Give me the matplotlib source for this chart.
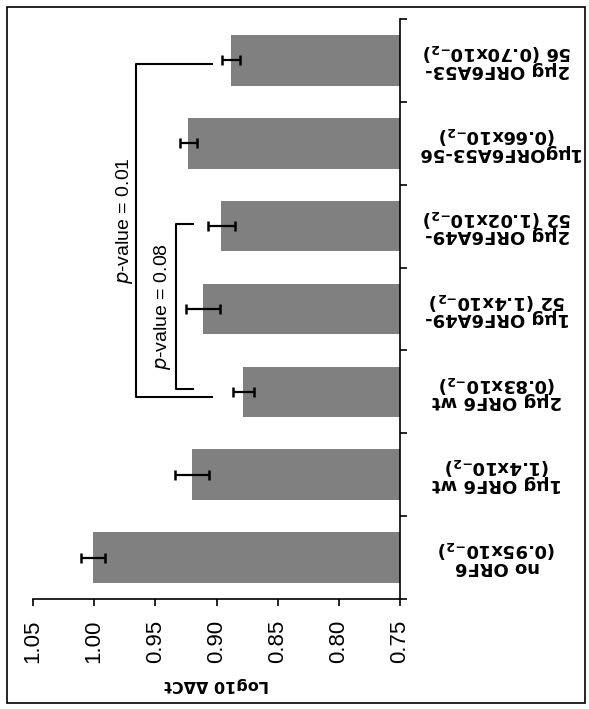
import numpy as np
import matplotlib
matplotlib.use("Agg")
import matplotlib.pyplot as plt
from matplotlib.patches import Rectangle

# data (bottom -> top)
labels = ["no ORF6\n(0.95x10$\\mathbf{_{-2}}$)",
          "1\u00b5g ORF6 wt\n(1.4x10$\\mathbf{_{-2}}$)",
          "2\u00b5g ORF6 wt\n(0.83x10$\\mathbf{_{-2}}$)",
          "1\u00b5g ORF6A49-\n52 (1.4x10$\\mathbf{_{-2}}$)",
          "2\u00b5g ORF6A49-\n52 (1.02x10$\\mathbf{_{-2}}$)",
          "1\u00b5gORF6A53-56\n(0.66x10$\\mathbf{_{-2}}$)",
          "2\u00b5g ORF6A53-\n56 (0.70x10$\\mathbf{_{-2}}$)"]
values = np.array([1.001, 0.920, 0.878, 0.911, 0.896, 0.923, 0.888])
errors = np.array([0.010, 0.014, 0.0084, 0.014, 0.011, 0.0068, 0.0071])
xticks = [1.05, 1.00, 0.95, 0.90, 0.85, 0.80, 0.75]
base = 0.75

fig = plt.figure(figsize=(5.89, 7.09), dpi=100)
ax = fig.add_axes([33/589, 110/709, 367/589, 580/709])

y = np.arange(len(values))
ax.barh(y, values - base, left=base, height=0.61, color="#808080")
ax.errorbar(values, y, xerr=errors, fmt="none", ecolor="black",
            elinewidth=1.6, capsize=3.6, capthick=1.8)

ax.set_xlim(1.05, 0.75)
ax.set_ylim(-0.5, 6.5)

# axes look
ax.spines["top"].set_visible(False)
ax.spines["left"].set_visible(False)
ax.spines["bottom"].set_linewidth(1.2)
ax.spines["right"].set_linewidth(1.2)
ax.yaxis.tick_right()

ax.set_xticks(xticks)
ax.set_xticklabels(["%.2f" % v for v in xticks], rotation=90,
                   family="Liberation Sans", fontsize=16)
ax.tick_params(axis="x", direction="out", length=5, width=1.2, pad=10)

ax.set_yticks(np.arange(-0.5, 7, 1.0))
ax.set_yticklabels([])
ax.set_yticks(y, minor=True)
ax.set_yticklabels(labels, minor=True, rotation=180, ha="center",
                   va="center", fontsize=13, fontweight="bold",
                   family="DejaVu Sans", linespacing=0.85)
ax.tick_params(axis="y", which="major", direction="out", length=5, width=1.2)
ax.tick_params(axis="y", which="minor", length=0, pad=70)

ax.set_xlabel("Log10 \u0394\u0394Ct", rotation=180, fontsize=11.5,
              fontweight="bold", labelpad=10)

# significance brackets
ax.plot([0.904, 0.966, 0.966, 0.904], [5.96, 5.96, 1.94, 1.94],
        color="black", lw=1.5, clip_on=False)
ax.plot([0.919, 0.933, 0.933, 0.919], [4.03, 4.03, 2.03, 2.03],
        color="black", lw=1.5, clip_on=False)
ax.text(0.975, 4.07, "$\\it{p}$-value = 0.01", rotation=90, ha="center",
        va="center", fontsize=14, family="Liberation Sans")
ax.text(0.944, 3.03, "$\\it{p}$-value = 0.08", rotation=90, ha="center",
        va="center", fontsize=14, family="Liberation Sans")

# outer frame
fig.patches.append(Rectangle((7/589, 6/709), 578/589, 696/709,
                             transform=fig.transFigure, fill=False,
                             edgecolor="black", lw=1.2))

fig.savefig("out.png", dpi=100)
